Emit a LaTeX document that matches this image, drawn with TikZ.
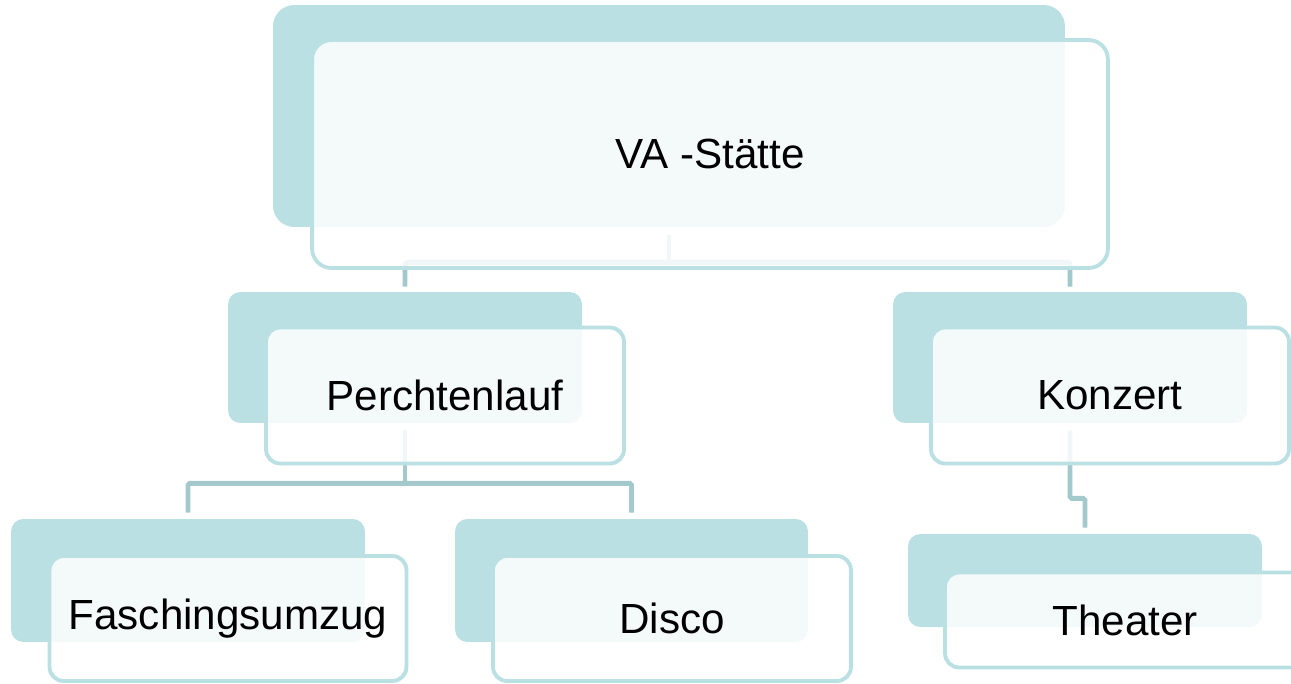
\documentclass[tikz,border=0pt]{standalone}
\usepackage{fontspec}
\setmainfont{Liberation Sans}
\usepackage{tikz}
\usetikzlibrary{positioning, calc}
\definecolor{tealback}{RGB}{187,224,227}
\definecolor{tealline}{RGB}{163,201,204}
\tikzset{
  backbox/.style={rectangle, fill=tealback, inner sep=0pt, rounded corners=7pt},
  frontbox/.style={rectangle, draw=tealback, fill=white, fill opacity=0.85,
    text opacity=1, line width=2.2pt, inner sep=0pt, rounded corners=8pt,
    font=\fontsize{24}{28}\selectfont},
  conn/.style={line width=2.8pt, color=tealline, rounded corners=1pt}
}

\begin{document}
\begin{tikzpicture}[x=0.02cm, y=-0.02cm]
  \clip (0,0) rectangle (1291,683);
  % back boxes
  \node[backbox, rounded corners=12pt, minimum width=15.84cm, minimum height=4.44cm] (vaback) at (669,116) {};
  \node[backbox, minimum width=7.08cm, minimum height=2.62cm] (perback) at (405,357.5) {};
  \node[backbox, minimum width=7.08cm, minimum height=2.62cm] (konback) at (1070,357.5) {};
  \node[backbox, minimum width=7.08cm, minimum height=2.46cm] (faschback) at (188,580.5) {};
  \node[backbox, minimum width=7.06cm, minimum height=2.46cm] (discoback) at (631.5,580.5) {};
  \node[backbox, minimum width=7.08cm, minimum height=1.86cm] (theaback) at (1085,580.5) {};
  % connectors
  \draw[conn] ($(vaback.south)+(0,8)$) -- ($(vaback.south)+(0,35)$) coordinate (vajoin);
  \draw[conn] ($(perback.north)+(0,-5)$) |- (vajoin) -| ($(konback.north)+(0,-5)$);
  \draw[conn] ($(perback.south)+(0,7)$) -- ($(perback.south)+(0,60)$) coordinate (perjoin);
  \draw[conn] ($(faschback.north)+(0,-6)$) |- (perjoin) -| ($(discoback.north)+(0,-6)$);
  \draw[conn] ($(konback.south)+(0,7)$) -- ($(konback.south)+(0,75)$) -| ($(theaback.north)+(0,-6)$);
  % front boxes
  \node[frontbox, rounded corners=11pt, minimum width=15.92cm, minimum height=4.56cm] (vafront) at (710,154) {VA -Stätte};
  \node[frontbox, minimum width=7.16cm, minimum height=2.72cm] (perfront) at (445,395.5) {Perchtenlauf};
  \node[frontbox, minimum width=7.16cm, minimum height=2.72cm] (konfront) at (1110,395.5) {Konzert};
  \node[frontbox, minimum width=7.14cm, minimum height=2.5cm] (faschfront) at (228,618.5) {Faschingsumzug};
  \node[frontbox, minimum width=7.16cm, minimum height=2.5cm] (discofront) at (672,618.5) {Disco};
  \node[frontbox, minimum width=7.2cm, minimum height=1.9cm] (theafront) at (1125,620) {Theater};
\end{tikzpicture}
\end{document}
